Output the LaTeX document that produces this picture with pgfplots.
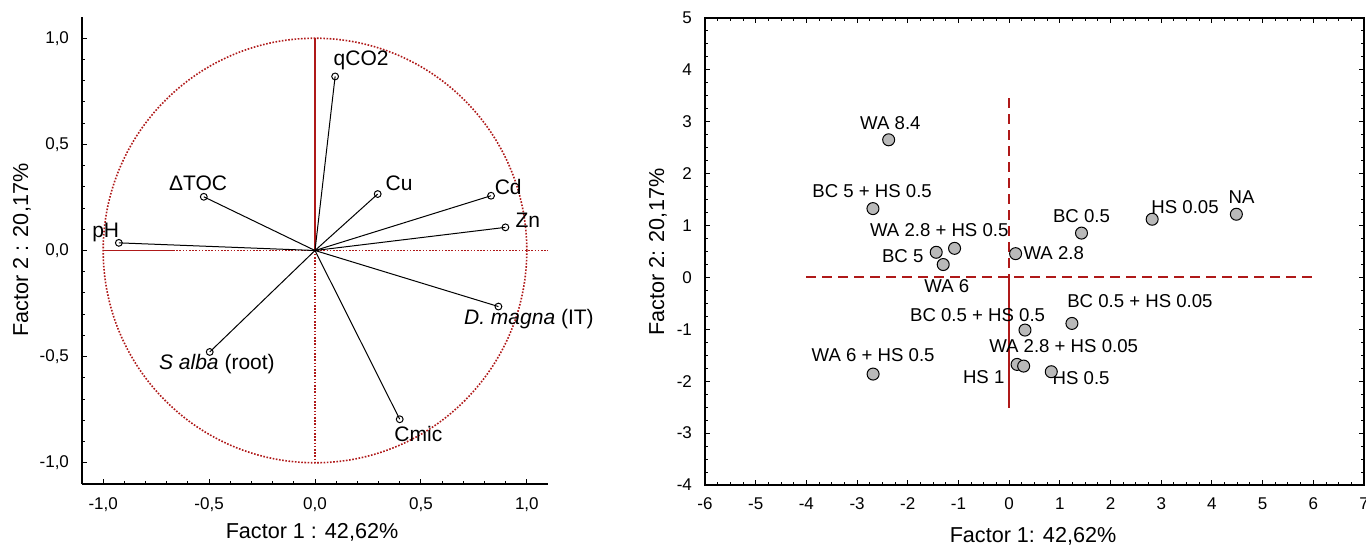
\documentclass[border=0pt]{standalone}
\usepackage{fontspec}
\setmainfont{Liberation Sans}
\usepackage{pgfplots}
\pgfplotsset{compat=1.18}
\usepackage{pgfplotstable}
\definecolor{dred}{RGB}{175,25,25}
\definecolor{mgray}{RGB}{185,185,185}

% loadings (left panel)
\pgfplotstableread{
x y
0.095 0.820
-0.525 0.253
0.296 0.266
0.831 0.258
0.899 0.109
-0.926 0.036
0.866 -0.264
-0.497 -0.478
0.400 -0.795
}\loadings

% scores (right panel)
\pgfplotstableread{
x y
-2.377 2.653
-2.687 1.327
-1.077 0.561
-1.439 0.485
-1.301 0.249
0.127 0.459
1.427 0.855
2.821 1.122
4.482 1.218
0.312 -1.014
1.238 -0.886
-2.684 -1.862
0.156 -1.676
0.286 -1.708
0.831 -1.817
}\scores

\newcommand{\lf}{\fontsize{10.5}{12}\selectfont}
\newcommand{\rf}{\fontsize{9.3}{11}\selectfont}
\newcommand{\af}{\fontsize{10.8}{13}\selectfont}
\newcommand{\tf}{\fontsize{8.5}{10}\selectfont}

\begin{document}
\begin{tikzpicture}
\useasboundingbox (0pt,0pt) rectangle (683pt,273.5pt);
% ---------------- left panel ----------------
\begin{axis}[
  at={(41pt,31.5pt)}, anchor=south west,
  scale only axis, width=233pt, height=233.5pt,
  xmin=-1.1, xmax=1.1, ymin=-1.1, ymax=1.1,
  axis x line=bottom, axis y line=left,
  axis line style={-, black, line width=0.7pt},
  tick align=inside,
  major tick length=2.5pt, minor tick length=1.5pt,
  tick style={black, line width=0.5pt},
  xtick={-1,-0.5,0,0.5,1},
  xticklabels={{-1,0},{-0,5},{0,0},{0,5},{1,0}},
  ytick={-1,-0.5,0,0.5,1},
  yticklabels={{-1,0},{-0,5},{0,0},{0,5},{1,0}},
  minor tick num=4,
  ticklabel style={font=\tf},
  xticklabel style={yshift=-3.5pt},
  yticklabel style={xshift=-3pt},
  clip=false,
]
\draw[dred, dash pattern=on 0.8pt off 0.8pt, line width=0.8pt] (axis cs:0,0) ellipse [x radius=1, y radius=1];
\addplot[dred, line width=0.7pt] coordinates {(0,0) (0,1)};
\addplot[dred, dash pattern=on 0.8pt off 0.8pt, line width=0.8pt] coordinates {(0,0) (0,-1)};
\addplot[dred, line width=0.7pt] coordinates {(-1,0) (-0.67,0)};
\addplot[dred, dash pattern=on 0.8pt off 0.8pt, line width=0.8pt] coordinates {(-0.67,0) (1.1,0)};
\addplot[black, line width=0.5pt, quiver={u=\thisrow{x}, v=\thisrow{y}}] table[x expr=0, y expr=0] {\loadings};
\addplot[only marks, mark=o, mark size=1.7pt, mark options={black, line width=0.5pt, fill=white}] table[x=x, y=y] {\loadings};
\node[font=\lf] at (axis cs:0.218,0.894) {qCO2};
\node[font=\lf] at (axis cs:-0.552,0.316) {ΔTOC};
\node[font=\lf] at (axis cs:0.397,0.316) {Cu};
\node[font=\lf] at (axis cs:0.912,0.297) {Cd};
\node[font=\lf] at (axis cs:1.005,0.141) {Zn};
\node[font=\lf] at (axis cs:-0.988,0.086) {pH};
\node[font=\lf] at (axis cs:1.01,-0.324) {\textit{D. magna} (IT)};
\node[font=\lf] at (axis cs:-0.463,-0.536) {\textit{S alba} (root)};
\node[font=\lf] at (axis cs:0.488,-0.866) {Cmic};
\end{axis}
\node[font=\af, rotate=90] at (11pt,148.5pt) {Factor 2 : 20,17\%};
\node[font=\af] at (156pt,7.5pt) {Factor 1 : 42,62\%};
% ---------------- right panel ----------------
\begin{axis}[
  at={(352.5pt,31pt)}, anchor=south west,
  scale only axis, width=329.5pt, height=233.5pt,
  xmin=-6, xmax=7, ymin=-4, ymax=5,
  axis line style={black, line width=0.7pt},
  tick align=inside, tick pos=both,
  major tick length=2.5pt, minor tick length=1.5pt,
  tick style={black, line width=0.5pt},
  xtick={-6,-5,...,7},
  xticklabels={-6,-5,-4,-3,-2,-1,0,1,2,3,4,5,6,7},
  ytick={-4,-3,...,5},
  yticklabels={-4,-3,-2,-1,0,1,2,3,4,5},
  minor tick num=3,
  ticklabel style={font=\tf},
  xticklabel style={yshift=-3pt},
  yticklabel style={xshift=-3pt},
  clip=false,
]
\addplot[dred, dash pattern=on 5pt off 3pt, line width=0.9pt] coordinates {(0,3.45) (0,0)};
\addplot[dred, line width=0.9pt] coordinates {(0,0) (0,-2.52)};
\addplot[dred, dash pattern=on 5pt off 3pt, line width=1pt] coordinates {(-4,0.01) (6.06,0.01)};
\addplot[only marks, mark=*, mark size=3pt, mark options={fill=mgray, draw=black, line width=0.5pt}] table[x=x, y=y] {\scores};
\node[font=\rf] at (axis cs:-2.343,2.98) {WA 8.4};
\node[font=\rf] at (axis cs:-2.704,1.671) {BC 5 + HS 0.5};
\node[font=\rf] at (axis cs:-1.379,0.918) {WA 2.8 + HS 0.5};
\node[font=\rf] at (axis cs:-2.1,0.42) {BC 5};
\node[font=\rf] at (axis cs:-1.23,-0.167) {WA 6};
\node[font=\rf] at (axis cs:0.88,0.472) {WA 2.8};
\node[font=\rf] at (axis cs:1.427,1.186) {BC 0.5};
\node[font=\rf] at (axis cs:3.47,1.352) {HS 0.05};
\node[font=\rf] at (axis cs:4.586,1.556) {NA};
\node[font=\rf] at (axis cs:-0.623,-0.726) {BC 0.5 + HS 0.5};
\node[font=\rf] at (axis cs:2.58,-0.456) {BC 0.5 + HS 0.05};
\node[font=\rf] at (axis cs:1.074,-1.323) {WA 2.8 + HS 0.05};
\node[font=\rf] at (axis cs:-2.684,-1.496) {WA 6 + HS 0.5};
\node[font=\rf] at (axis cs:-0.502,-1.913) {HS 1};
\node[font=\rf] at (axis cs:1.42,-1.945) {HS 0.5};
\end{axis}
\node[font=\af, rotate=90] at (329pt,147.5pt) {Factor 2: 20,17\%};
\node[font=\af] at (516.5pt,5.5pt) {Factor 1: 42,62\%};
\end{tikzpicture}
\end{document}
